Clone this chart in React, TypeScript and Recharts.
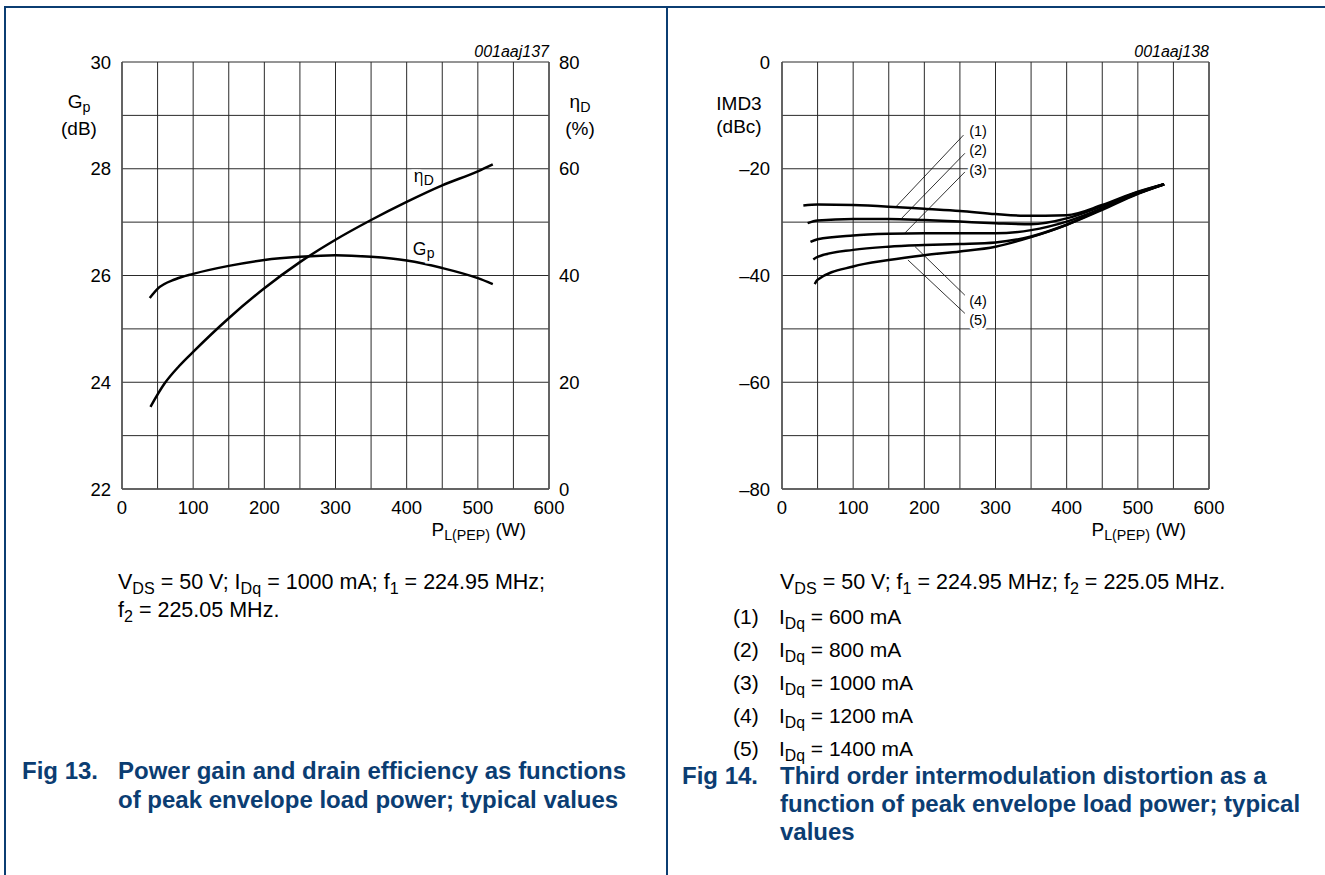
import React from "react";
import {
  LineChart,
  Line,
  XAxis,
  YAxis,
  CartesianGrid,
  ReferenceLine,
  ReferenceDot
} from "recharts";

// axis ticks
const powerTicks = [0, 50, 100, 150, 200, 250, 300, 350, 400, 450, 500, 550, 600];
const gainTicks = [22, 23, 24, 25, 26, 27, 28, 29, 30];
const effTicks = [0, 10, 20, 30, 40, 50, 60, 70, 80];
const imdTicks = [-80, -70, -60, -50, -40, -30, -20, -10, 0];

// Fig 13: Gp (dB) and drain efficiency (%) vs PL(PEP) (W)
const gainPoints = [
  { x: 39, y: 25.58 }, { x: 50, y: 25.75 }, { x: 75, y: 25.93 }, { x: 100, y: 26.03 },
  { x: 150, y: 26.18 }, { x: 200, y: 26.29 }, { x: 250, y: 26.35 }, { x: 300, y: 26.38 },
  { x: 350, y: 26.35 }, { x: 400, y: 26.28 }, { x: 450, y: 26.14 }, { x: 500, y: 25.95 },
  { x: 521, y: 25.84 }
];
const effPoints = [
  { x: 40, y: 15.4 }, { x: 60, y: 19.8 }, { x: 80, y: 23.0 }, { x: 100, y: 25.7 },
  { x: 150, y: 32.0 }, { x: 200, y: 37.6 }, { x: 250, y: 42.5 }, { x: 300, y: 46.7 },
  { x: 350, y: 50.4 }, { x: 400, y: 53.8 }, { x: 450, y: 56.9 }, { x: 500, y: 59.5 },
  { x: 521, y: 60.8 }
];

// Fig 14: IMD3 (dBc) vs PL(PEP) (W), one list per IDq
const imd600 = [
  { x: 30, y: -26.9 }, { x: 50, y: -26.7 }, { x: 100, y: -26.8 }, { x: 150, y: -27.1 },
  { x: 200, y: -27.5 }, { x: 250, y: -27.9 }, { x: 300, y: -28.5 }, { x: 340, y: -28.8 },
  { x: 400, y: -28.7 }, { x: 450, y: -26.8 }, { x: 500, y: -24.3 }, { x: 537, y: -22.9 }
];
const imd800 = [
  { x: 36, y: -30.2 }, { x: 50, y: -29.7 }, { x: 100, y: -29.4 }, { x: 150, y: -29.4 },
  { x: 200, y: -29.6 }, { x: 250, y: -29.9 }, { x: 300, y: -30.2 }, { x: 350, y: -30.4 },
  { x: 400, y: -29.3 }, { x: 450, y: -27.0 }, { x: 500, y: -24.4 }, { x: 537, y: -22.9 }
];
const imd1000 = [
  { x: 40, y: -33.7 }, { x: 50, y: -33.2 }, { x: 100, y: -32.5 }, { x: 150, y: -32.2 },
  { x: 200, y: -32.1 }, { x: 250, y: -32.1 }, { x: 300, y: -32.1 }, { x: 350, y: -31.5 },
  { x: 400, y: -29.9 }, { x: 450, y: -27.4 }, { x: 500, y: -24.6 }, { x: 537, y: -22.9 }
];
const imd1200 = [
  { x: 44, y: -37.0 }, { x: 50, y: -36.5 }, { x: 100, y: -35.2 }, { x: 150, y: -34.6 },
  { x: 200, y: -34.3 }, { x: 250, y: -34.1 }, { x: 300, y: -33.8 }, { x: 350, y: -32.7 },
  { x: 400, y: -30.5 }, { x: 450, y: -27.7 }, { x: 500, y: -24.7 }, { x: 537, y: -22.9 }
];
const imd1400 = [
  { x: 46, y: -41.6 }, { x: 50, y: -40.8 }, { x: 100, y: -38.3 }, { x: 150, y: -37.1 },
  { x: 200, y: -36.2 }, { x: 250, y: -35.5 }, { x: 300, y: -34.6 }, { x: 350, y: -32.8 },
  { x: 400, y: -30.5 }, { x: 450, y: -27.5 }, { x: 500, y: -24.6 }, { x: 537, y: -22.9 }
];
const imdSeries = [imd600, imd800, imd1000, imd1200, imd1400];

// callouts (1)..(5): leader from label to curve, in data units
const calloutNames = ["(1)", "(2)", "(3)", "(4)", "(5)"];
const calloutLabelAt = [
  { x: 263, y: -12.9 }, { x: 263, y: -16.5 }, { x: 263, y: -20.2 },
  { x: 263, y: -44.8 }, { x: 263, y: -48.3 }
];
const calloutLeaders = [
  [{ x: 255, y: -13.7 }, { x: 161, y: -27.0 }],
  [{ x: 257, y: -17.1 }, { x: 168, y: -29.3 }],
  [{ x: 257, y: -20.6 }, { x: 173, y: -32.0 }],
  [{ x: 187, y: -34.6 }, { x: 257, y: -43.7 }],
  [{ x: 177, y: -37.1 }, { x: 257, y: -47.1 }]
];
const idqLabels = ["600 mA", "800 mA", "1000 mA", "1200 mA", "1400 mA"];

const FONT = '"Liberation Sans", Arial, Helvetica, sans-serif';
const BLUE = "#0b3d72";
const GRID = "#2a2a2a";
const tickStyle = { fill: "#000", fontSize: 18.5 };

const every100 = (v: number) => (v % 100 === 0 ? String(v) : "");

const Sub = ({ children }: { children: React.ReactNode }) => (
  <sub style={{ fontSize: "0.75em", verticalAlign: "-0.3em", lineHeight: 0 }}>{children}</sub>
);

const T = ({
  x, y, w, align = "left", size = 19, bold, italic, color = "#000", children
}: any) => (
  <div
    style={{
      position: "absolute",
      left: x,
      top: y - 11,
      width: w,
      height: 22,
      lineHeight: "22px",
      fontSize: size,
      fontWeight: bold ? 700 : 400,
      fontStyle: italic ? "italic" : "normal",
      textAlign: align,
      whiteSpace: "nowrap",
      color
    }}
  >
    {children}
  </div>
);

const curveLabel = (main: string, sub: string) => (p: any) => (
  <text
    x={p.cx}
    y={p.cy}
    textAnchor="middle"
    dominantBaseline="central"
    fontSize={18}
    fill="#000"
    stroke="#fff"
    strokeWidth={5}
    paintOrder="stroke"
    fontFamily={FONT}
  >
    {main}
    <tspan fontSize={14} dy={4}>{sub}</tspan>
  </text>
);

const calloutText = (name: string) => (p: any) => (
  <text
    x={p.cx}
    y={p.cy}
    textAnchor="start"
    dominantBaseline="central"
    fontSize={14.5}
    fill="#000"
    stroke="#fff"
    strokeWidth={5}
    paintOrder="stroke"
    fontFamily={FONT}
  >
    {name}
  </text>
);

function GainChart() {
  return (
    <LineChart
      width={660}
      height={560}
      margin={{ top: 62, right: 51, bottom: 41, left: 62 }}
      style={{ fontFamily: FONT }}
    >
      <CartesianGrid yAxisId="gain" stroke={GRID} strokeWidth={1} />
      <XAxis
        type="number"
        dataKey="x"
        domain={[0, 600]}
        ticks={powerTicks}
        interval={0}
        tickFormatter={every100}
        tickLine={false}
        tickMargin={6}
        tick={tickStyle}
        axisLine={{ stroke: "#555", strokeWidth: 1.5 }}
        height={30}
      />
      <YAxis
        yAxisId="gain"
        domain={[22, 30]}
        ticks={gainTicks}
        interval={0}
        tickFormatter={(v: number) => (v % 2 === 0 ? String(v) : "")}
        tickLine={false}
        tickMargin={5}
        tick={tickStyle}
        axisLine={{ stroke: "#555", strokeWidth: 1.5 }}
        width={60}
      />
      <YAxis
        yAxisId="eff"
        orientation="right"
        domain={[0, 80]}
        ticks={effTicks}
        interval={0}
        tickFormatter={(v: number) => (v % 20 === 0 ? String(v) : "")}
        tickLine={false}
        tickMargin={4}
        tick={tickStyle}
        axisLine={{ stroke: "#555", strokeWidth: 1.5 }}
        width={60}
      />
      <Line
        yAxisId="gain"
        data={gainPoints}
        dataKey="y"
        type="monotone"
        stroke="#000"
        strokeWidth={2.5}
        dot={false}
        isAnimationActive={false}
      />
      <Line
        yAxisId="eff"
        data={effPoints}
        dataKey="y"
        type="monotone"
        stroke="#000"
        strokeWidth={2.5}
        dot={false}
        isAnimationActive={false}
      />
      <ReferenceDot yAxisId="eff" x={424} y={58.6} r={0} shape={curveLabel("η", "D")} />
      <ReferenceDot yAxisId="gain" x={424} y={26.5} r={0} shape={curveLabel("G", "p")} />
    </LineChart>
  );
}

function ImdChart() {
  return (
    <LineChart
      width={600}
      height={560}
      margin={{ top: 62, right: 61, bottom: 41, left: 52 }}
      style={{ fontFamily: FONT }}
    >
      <CartesianGrid stroke={GRID} strokeWidth={1} />
      <XAxis
        type="number"
        dataKey="x"
        domain={[0, 600]}
        ticks={powerTicks}
        interval={0}
        tickFormatter={every100}
        tickLine={false}
        tickMargin={6}
        tick={tickStyle}
        axisLine={{ stroke: "#555", strokeWidth: 1.5 }}
        height={30}
      />
      <YAxis
        domain={[-80, 0]}
        ticks={imdTicks}
        interval={0}
        tickFormatter={(v: number) =>
          v % 20 !== 0 ? "" : v < 0 ? "\u2013" + Math.abs(v) : String(v)
        }
        tickLine={false}
        tickMargin={6}
        tick={tickStyle}
        axisLine={{ stroke: "#555", strokeWidth: 1.5 }}
        width={60}
      />
      <ReferenceLine x={600} stroke="#555" strokeWidth={1.5} />
      {imdSeries.map((s, i) => (
        <Line
          key={i}
          data={s}
          dataKey="y"
          type="monotone"
          stroke="#000"
          strokeWidth={2.5}
          dot={false}
          isAnimationActive={false}
        />
      ))}
      {calloutLeaders.map((seg, i) => (
        <ReferenceLine key={"l" + i} segment={seg} stroke="#000" strokeWidth={0.8} />
      ))}
      {calloutNames.map((n, i) => (
        <ReferenceDot
          key={"d" + i}
          x={calloutLabelAt[i].x}
          y={calloutLabelAt[i].y}
          r={0}
          shape={calloutText(n)}
        />
      ))}
    </LineChart>
  );
}

export default function App() {
  return (
    <div
      style={{
        position: "absolute",
        left: 0,
        top: 0,
        width: 1325,
        height: 875,
        background: "#fff",
        fontFamily: FONT,
        overflow: "hidden"
      }}
    >
      {/* page frame */}
      <div style={{ position: "absolute", left: 4, top: 6, width: 1321, height: 2, background: BLUE }} />
      <div style={{ position: "absolute", left: 4, top: 6, width: 1.5, height: 869, background: BLUE }} />
      <div style={{ position: "absolute", left: 666, top: 6, width: 1.5, height: 869, background: BLUE }} />

      <div style={{ position: "absolute", left: 0, top: 0 }}>
        <GainChart />
      </div>
      <div style={{ position: "absolute", left: 670, top: 0 }}>
        <ImdChart />
      </div>

      {/* Fig 13 axis titles */}
      <T x={429} y={52} w={120} align="right" size={16} italic>001aaj137</T>
      <T x={44} y={102} w={70} align="center">G<Sub>p</Sub></T>
      <T x={44} y={129} w={70} align="center">(dB)</T>
      <T x={545} y={102} w={70} align="center">η<Sub>D</Sub></T>
      <T x={545} y={129} w={70} align="center">(%)</T>
      <T x={356} y={530} w={170} align="right">P<Sub>L(PEP)</Sub> (W)</T>

      {/* Fig 14 axis titles */}
      <T x={1089} y={52} w={120} align="right" size={16} italic>001aaj138</T>
      <T x={699} y={104} w={80} align="center">IMD3</T>
      <T x={699} y={127} w={80} align="center">(dBc)</T>
      <T x={1016} y={530} w={170} align="right">P<Sub>L(PEP)</Sub> (W)</T>

      {/* Fig 13 notes */}
      <T x={118} y={582} size={21.5}>
        V<Sub>DS</Sub> = 50 V; I<Sub>Dq</Sub> = 1000 mA; f<Sub>1</Sub> = 224.95 MHz;
      </T>
      <T x={118} y={610} size={21.5}>f<Sub>2</Sub> = 225.05 MHz.</T>
      <T x={22} y={771} size={24} bold color={BLUE}>Fig 13.</T>
      <T x={118} y={771} size={24} bold color={BLUE}>Power gain and drain efficiency as functions</T>
      <T x={118} y={800} size={24} bold color={BLUE}>of peak envelope load power; typical values</T>

      {/* Fig 14 notes */}
      <T x={780} y={582} size={21.5}>
        V<Sub>DS</Sub> = 50 V; f<Sub>1</Sub> = 224.95 MHz; f<Sub>2</Sub> = 225.05 MHz.
      </T>
      {idqLabels.map((l, i) => (
        <React.Fragment key={l}>
          <T x={733} y={617 + i * 33} size={21}>{calloutNames[i]}</T>
          <T x={779} y={617 + i * 33} size={21}>I<Sub>Dq</Sub> = {l}</T>
        </React.Fragment>
      ))}
      <T x={682} y={776} size={24} bold color={BLUE}>Fig 14.</T>
      <T x={780} y={776} size={24} bold color={BLUE}>Third order intermodulation distortion as a</T>
      <T x={780} y={804} size={24} bold color={BLUE}>function of peak envelope load power; typical</T>
      <T x={780} y={832} size={24} bold color={BLUE}>values</T>
    </div>
  );
}
